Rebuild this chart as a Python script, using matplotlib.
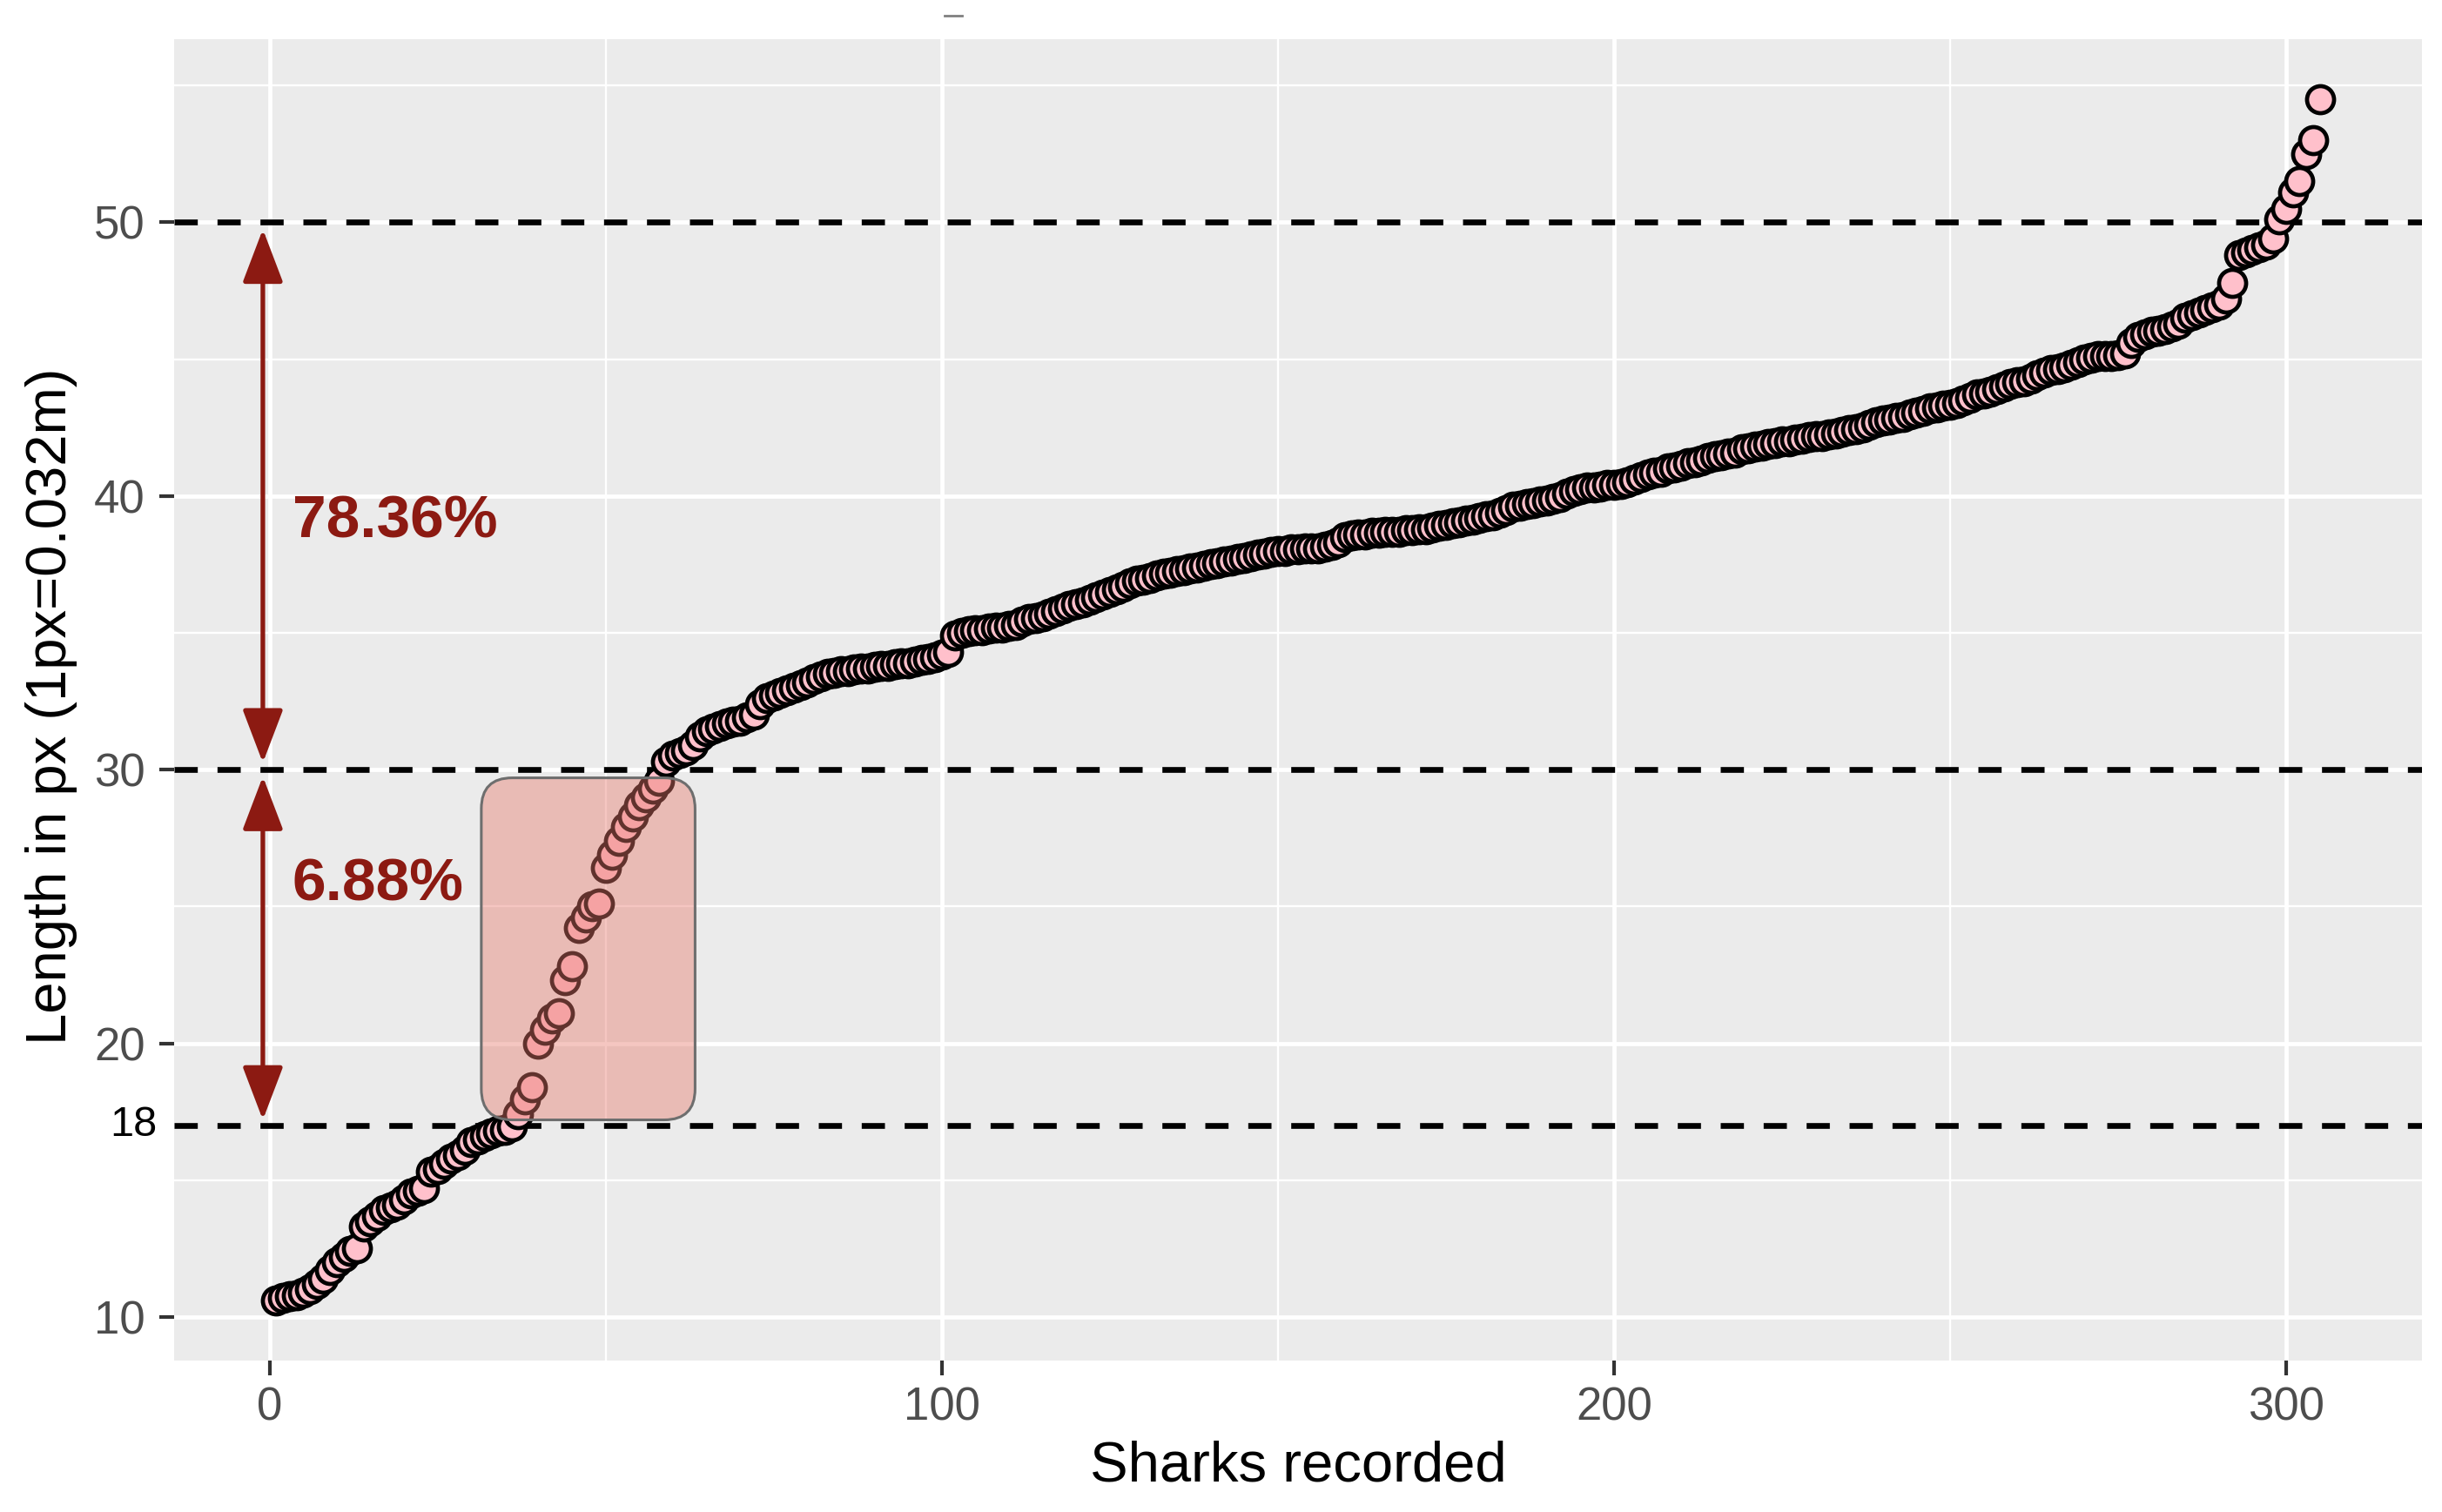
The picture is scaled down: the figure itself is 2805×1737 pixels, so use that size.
import numpy as np
import matplotlib.pyplot as plt
from matplotlib.patches import FancyBboxPatch
from matplotlib.lines import Line2D

plt.rcParams['font.family'] = ['Liberation Sans', 'DejaVu Sans']

# sorted lengths (px) of the recorded sharks
lengths = [
    10.6, 10.7, 10.75, 10.8, 10.9, 11.0, 11.2, 11.4, 11.7, 12.0,
    12.2, 12.4, 12.5, 13.3, 13.5, 13.7, 13.9, 14.0, 14.1, 14.3,
    14.5, 14.6, 14.7, 15.3, 15.4, 15.6, 15.8, 15.9, 16.1, 16.4,
    16.5, 16.6, 16.7, 16.8, 16.85, 16.95, 17.4, 17.95, 18.4, 20.0,
    20.5, 20.9, 21.1, 22.3, 22.8, 24.2, 24.6, 25.0, 25.1, 26.4,
    26.9, 27.4, 27.9, 28.3, 28.7, 29.0, 29.3, 29.6, 30.3, 30.5,
    30.6, 30.7, 30.9, 31.2, 31.4, 31.5, 31.6, 31.7, 31.75, 31.8,
    31.9, 32.0, 32.4, 32.6, 32.7, 32.8, 32.9, 33.0, 33.1, 33.2,
    33.3, 33.4, 33.5, 33.55, 33.6, 33.6, 33.65, 33.7, 33.7, 33.75,
    33.8, 33.8, 33.85, 33.9, 33.9, 33.95, 34.0, 34.05, 34.1, 34.2,
    34.3, 34.9, 35.0, 35.05, 35.1, 35.1, 35.15, 35.2, 35.2, 35.25,
    35.3, 35.4, 35.5, 35.55, 35.6, 35.7, 35.8, 35.9, 36.0, 36.05,
    36.1, 36.2, 36.3, 36.4, 36.5, 36.6, 36.7, 36.8, 36.9, 36.95,
    37.0, 37.1, 37.15, 37.2, 37.25, 37.3, 37.35, 37.4, 37.45, 37.5,
    37.55, 37.6, 37.65, 37.7, 37.75, 37.8, 37.85, 37.9, 37.95, 38.0,
    38.0, 38.05, 38.05, 38.1, 38.1, 38.1, 38.15, 38.2, 38.3, 38.5,
    38.55, 38.6, 38.6, 38.65, 38.65, 38.7, 38.7, 38.7, 38.75, 38.75,
    38.8, 38.8, 38.85, 38.9, 38.95, 39.0, 39.05, 39.1, 39.15, 39.2,
    39.25, 39.3, 39.4, 39.5, 39.6, 39.65, 39.7, 39.75, 39.8, 39.85,
    39.9, 39.95, 40.1, 40.2, 40.25, 40.3, 40.3, 40.35, 40.4, 40.4,
    40.45, 40.5, 40.6, 40.7, 40.8, 40.85, 40.9, 41.0, 41.05, 41.1,
    41.2, 41.25, 41.3, 41.4, 41.45, 41.5, 41.55, 41.6, 41.7, 41.75,
    41.8, 41.85, 41.9, 41.95, 42.0, 42.0, 42.05, 42.1, 42.15, 42.2,
    42.2, 42.25, 42.3, 42.35, 42.4, 42.45, 42.5, 42.6, 42.7, 42.75,
    42.8, 42.85, 42.9, 43.0, 43.05, 43.1, 43.2, 43.25, 43.3, 43.35,
    43.4, 43.5, 43.6, 43.7, 43.75, 43.8, 43.9, 44.0, 44.1, 44.15,
    44.2, 44.3, 44.4, 44.5, 44.6, 44.65, 44.7, 44.8, 44.9, 45.0,
    45.05, 45.1, 45.1, 45.1, 45.15, 45.2, 45.6, 45.8, 45.9, 46.0,
    46.05, 46.1, 46.2, 46.3, 46.5, 46.6, 46.7, 46.8, 46.9, 47.0,
    47.2, 47.8, 48.8, 48.9, 49.0, 49.1, 49.2, 49.4, 50.1, 50.5,
    51.1, 51.5, 52.5, 53.0, 54.5,
]
sharks = np.arange(1, len(lengths) + 1)

# cut-off lines (the lower one is drawn where the picture has it, labelled "18")
cut_lines = [17.0, 30, 50]
cut_low_label = "18"
pct_labels = ["78.36%", "6.88%"]

x_ticks = [0, 100, 200, 300]
y_ticks = [10, 20, 30, 40, 50]

W, H = 2805, 1737
fig = plt.figure(figsize=(W / 100, H / 100), dpi=100)
ax = fig.add_axes([200 / W, 1 - 1563 / H, 2582 / W, 1518 / H])

# ggplot-like 5% expansion
xr = sharks.max() - sharks.min()
yr = max(lengths) - min(lengths)
ax.set_xlim(sharks.min() - 0.05 * xr, sharks.max() + 0.05 * xr)
ax.set_ylim(min(lengths) - 0.05 * yr, max(lengths) + 0.05 * yr)

ax.set_facecolor("#EBEBEB")
for s in ax.spines.values():
    s.set_visible(False)

for v in x_ticks:
    ax.axvline(v, color="white", lw=3.4, zorder=0.5)
for v in [50, 150, 250]:
    ax.axvline(v, color="white", lw=1.7, zorder=0.5)
for v in y_ticks:
    ax.axhline(v, color="white", lw=3.4, zorder=0.5)
for v in [15, 25, 35, 45, 55]:
    ax.axhline(v, color="white", lw=1.7, zorder=0.5)

for v in cut_lines:
    ax.axhline(v, color="black", lw=4.8, ls=(0, (4, 3.4)), zorder=1)

ax.scatter(sharks, lengths, s=500, facecolor="pink", edgecolor="black",
           linewidths=3.4, zorder=2)

ax.set_xticks(x_ticks)
ax.set_yticks(y_ticks)
ax.tick_params(axis="both", colors="#333333", length=12, width=3, labelsize=38,
               labelcolor="#4D4D4D")
ax.tick_params(axis="x", pad=9)
ax.tick_params(axis="y", pad=12)

ax.set_xlabel("Sharks recorded", fontsize=47, color="black")
ax.xaxis.set_label_coords(0.5, -0.080)
ax.xaxis.label.set_va("center")
ax.set_ylabel("Length in px (1px=0.032m)", fontsize=47, color="black")
ax.yaxis.set_label_coords(-0.0546, 0.495)
ax.yaxis.label.set_va("center")

# "18" label on the left of the lower dashed line
ax.annotate(cut_low_label, xy=(0, cut_lines[0]), xycoords=("axes fraction", "data"),
            xytext=(-14, 0), textcoords="offset points", ha="right", va="center",
            fontsize=35, color="black")

# highlight box over the steep part
x0, x1 = ax.get_xlim()
y0, y1 = ax.get_ylim()
bbox = ax.get_position()
px_x = bbox.width * W / (x1 - x0)
px_y = bbox.height * H / (y1 - y0)
for kw in (dict(facecolor="#E8796C", alpha=0.42, edgecolor="none", zorder=3),
           dict(facecolor="none", edgecolor="#6E6E6E", lw=2.2, zorder=3.1)):
    ax.add_patch(FancyBboxPatch((31.5, 17.2), 31.8, 12.5,
                                boxstyle="round,pad=0,rounding_size=4.6",
                                mutation_aspect=px_x / px_y, **kw))

red = "#8C1A12"
arrow_x = -1.0
arrow_kw = dict(arrowstyle="<|-|>,head_length=1.0,head_width=0.38",
                color=red, lw=3.8, mutation_scale=38, shrinkA=0, shrinkB=0)
ax.annotate("", xy=(arrow_x, cut_lines[2] - 0.25), xytext=(arrow_x, cut_lines[1] + 0.25),
            arrowprops=arrow_kw, zorder=4)
ax.annotate("", xy=(arrow_x, cut_lines[1] - 0.25), xytext=(arrow_x, cut_lines[0] + 0.2),
            arrowprops=arrow_kw, zorder=4)

ax.text(3.4, 39.05, pct_labels[0], color=red, fontsize=50, fontweight="bold",
        ha="left", va="center", zorder=4)
ax.text(3.4, 25.8, pct_labels[1], color=red, fontsize=50, fontweight="bold",
        ha="left", va="center", zorder=4)

# small stray mark above the panel
fig.add_artist(Line2D([1085 / W, 1105 / W], [1 - 18 / H, 1 - 18 / H],
                      color="#808080", lw=2))

fig.savefig("out.png", dpi=100, facecolor="white")
